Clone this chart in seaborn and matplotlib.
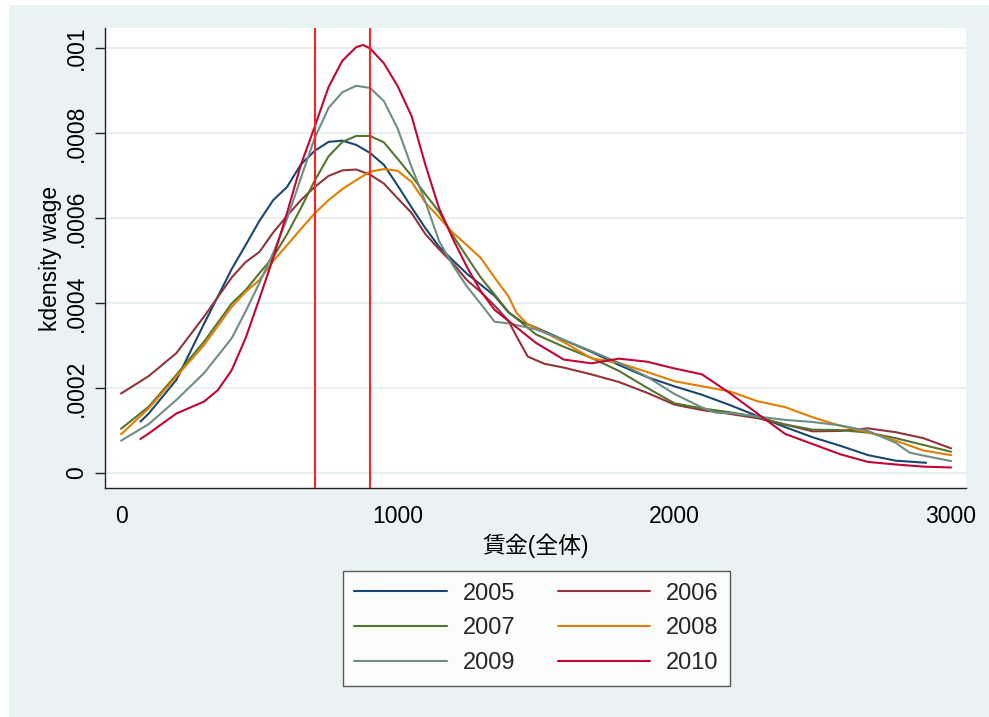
import matplotlib
matplotlib.use("Agg")
import matplotlib.pyplot as plt
from matplotlib.patches import Rectangle
import numpy as np
import pandas as pd
import seaborn as sns

sns.set_theme(style="white")
plt.rcParams['font.family'] = ['Liberation Sans', 'Noto Sans CJK JP', 'DejaVu Sans']

# kdensity of wage per year, density values in units of 1e-4
years = ["2005", "2006", "2007", "2008", "2009", "2010"]
colors = ["#1a476f", "#90353b", "#55752f", "#e37e00", "#6e8e84", "#c10534"]

wage_2005 = [70, 100, 200, 300, 400, 450, 500, 550, 600, 650, 700, 750, 800, 850, 900, 950, 1000,
             1050, 1100, 1150, 1200, 1250, 1300, 1350, 1400, 1450, 1500, 1600, 1700, 1800, 1900,
             2000, 2100, 2200, 2300, 2400, 2500, 2600, 2700, 2800, 2910]
dens_2005 = [1.21, 1.40, 2.19, 3.51, 4.80, 5.36, 5.93, 6.42, 6.73, 7.26, 7.58, 7.79, 7.82, 7.72,
             7.53, 7.25, 6.76, 6.25, 5.76, 5.32, 5.00, 4.69, 4.43, 4.17, 3.78, 3.55, 3.42, 3.13,
             2.85, 2.54, 2.26, 2.04, 1.84, 1.60, 1.34, 1.08, 0.84, 0.64, 0.42, 0.29, 0.24]

wage_2006 = [0, 100, 200, 300, 400, 450, 500, 550, 600, 650, 700, 750, 800, 850, 900, 950, 1000,
             1050, 1100, 1150, 1200, 1250, 1300, 1350, 1400, 1430, 1470, 1530, 1600, 1700, 1800,
             1900, 2000, 2100, 2200, 2300, 2400, 2500, 2600, 2700, 2800, 2900, 3000]
dens_2006 = [1.87, 2.28, 2.82, 3.68, 4.60, 4.96, 5.20, 5.66, 6.05, 6.42, 6.73, 6.99, 7.12, 7.14,
             7.02, 6.81, 6.46, 6.12, 5.62, 5.26, 4.93, 4.54, 4.26, 3.94, 3.58, 3.21, 2.74, 2.57,
             2.48, 2.32, 2.14, 1.89, 1.61, 1.48, 1.39, 1.29, 1.14, 0.98, 0.99, 1.05, 0.96, 0.82,
             0.58]

wage_2007 = [0, 100, 200, 300, 400, 450, 500, 550, 600, 650, 700, 750, 800, 850, 900, 950, 1000,
             1050, 1100, 1150, 1200, 1250, 1300, 1350, 1400, 1500, 1600, 1700, 1800, 1900, 2000,
             2100, 2200, 2300, 2400, 2500, 2600, 2700, 2800, 2900, 3000]
dens_2007 = [1.04, 1.56, 2.31, 3.09, 3.99, 4.30, 4.70, 5.08, 5.62, 6.23, 6.88, 7.45, 7.79, 7.93,
             7.93, 7.78, 7.39, 6.99, 6.56, 6.14, 5.58, 5.09, 4.60, 4.20, 3.79, 3.26, 2.97, 2.71,
             2.40, 2.01, 1.64, 1.52, 1.43, 1.32, 1.14, 1.02, 1.01, 0.95, 0.82, 0.66, 0.50]

wage_2008 = [0, 100, 200, 300, 400, 450, 500, 550, 600, 650, 700, 750, 800, 850, 900, 950, 1000,
             1050, 1100, 1150, 1200, 1250, 1300, 1350, 1400, 1430, 1470, 1500, 1600, 1700, 1800,
             1900, 2000, 2100, 2200, 2300, 2400, 2500, 2600, 2700, 2800, 2900, 3000]
dens_2008 = [0.91, 1.52, 2.27, 3.01, 3.91, 4.26, 4.54, 4.99, 5.36, 5.74, 6.11, 6.42, 6.68, 6.89,
             7.09, 7.15, 7.11, 6.85, 6.36, 6.01, 5.65, 5.36, 5.06, 4.60, 4.16, 3.76, 3.50, 3.41,
             3.08, 2.70, 2.59, 2.38, 2.16, 2.04, 1.92, 1.69, 1.55, 1.31, 1.11, 0.96, 0.76, 0.53,
             0.42]

wage_2009 = [0, 100, 200, 300, 400, 450, 500, 550, 600, 650, 700, 750, 800, 850, 900, 950, 1000,
             1050, 1100, 1150, 1200, 1250, 1300, 1350, 1400, 1500, 1600, 1700, 1800, 1900, 2000,
             2100, 2150, 2200, 2300, 2400, 2500, 2600, 2700, 2800, 2850, 2900, 3000]
dens_2009 = [0.76, 1.15, 1.72, 2.35, 3.17, 3.80, 4.47, 5.18, 5.98, 6.94, 7.88, 8.59, 8.96, 9.11,
             9.06, 8.75, 8.10, 7.20, 6.38, 5.45, 4.88, 4.39, 3.98, 3.56, 3.52, 3.38, 3.13, 2.87,
             2.59, 2.27, 1.86, 1.54, 1.42, 1.41, 1.33, 1.25, 1.20, 1.12, 0.99, 0.71, 0.48, 0.41,
             0.28]

wage_2010 = [70, 100, 200, 300, 350, 400, 450, 500, 550, 600, 650, 700, 750, 800, 850, 875, 900,
             950, 1000, 1050, 1100, 1150, 1200, 1250, 1300, 1350, 1400, 1500, 1600, 1700, 1800,
             1900, 2000, 2100, 2200, 2300, 2400, 2500, 2600, 2700, 2800, 2900, 3000]
dens_2010 = [0.80, 0.93, 1.40, 1.68, 1.95, 2.42, 3.17, 4.10, 5.06, 6.12, 7.25, 8.15, 9.08, 9.70,
             10.02, 10.07, 9.99, 9.64, 9.10, 8.40, 7.25, 6.22, 5.50, 4.85, 4.28, 3.84, 3.58, 3.06,
             2.67, 2.58, 2.69, 2.62, 2.46, 2.32, 1.88, 1.40, 0.92, 0.68, 0.44, 0.26, 0.20, 0.15,
             0.13]

ref_lines = [700, 900]
x_ticks = [0, 1000, 2000, 3000]
y_ticks = [0, 0.0002, 0.0004, 0.0006, 0.0008, 0.001]
y_ticklabels = ["0", ".0002", ".0004", ".0006", ".0008", ".001"]

wages = [wage_2005, wage_2006, wage_2007, wage_2008, wage_2009, wage_2010]
dens = [dens_2005, dens_2006, dens_2007, dens_2008, dens_2009, dens_2010]
frames = []
for yr, xs, ds in zip(years, wages, dens):
    frames.append(pd.DataFrame({"wage": xs, "density": np.array(ds) * 1e-4, "year": yr}))
df = pd.concat(frames, ignore_index=True)

bg = "#eaf2f3"
W, H = 989, 717
fig = plt.figure(figsize=(W / 100, H / 100), dpi=100, facecolor=bg)
# thin white margin on left/top like the exported graph
fig.patches.append(Rectangle((0, 0), 8 / W, 1, transform=fig.transFigure, color="white", zorder=-1))
fig.patches.append(Rectangle((0, 1 - 4 / H), 1, 4 / H, transform=fig.transFigure, color="white", zorder=-1))

ax = fig.add_axes([105 / W, 1 - 488 / H, (966 - 105) / W, (488 - 28) / H])
ax.set_facecolor("white")

sns.lineplot(data=df, x="wage", y="density", hue="year", palette=dict(zip(years, colors)),
             estimator=None, sort=False, lw=1.5, ax=ax, zorder=2)

for v in ref_lines:
    ax.axvline(v, color="#ff2020", lw=1.5, zorder=3)

ax.set_xlim(-58, 3054)
ax.set_ylim(-0.0000353, 0.001047)
ax.set_xticks(x_ticks)
ax.set_xticklabels([str(t) for t in x_ticks])
ax.set_yticks(y_ticks)
ax.set_yticklabels(y_ticklabels, rotation=90, va="center")

ax.yaxis.grid(True, color="#e6eef0", lw=1.3)
ax.xaxis.grid(False)
ax.set_axisbelow(True)

for s in ["top", "right"]:
    ax.spines[s].set_visible(False)
for s in ["left", "bottom"]:
    ax.spines[s].set_color("#222222")
    ax.spines[s].set_linewidth(1.0)

ax.tick_params(axis="both", which="major", direction="out", length=7, width=1.0,
               color="#222222", labelsize=16.5, labelcolor="black")
ax.tick_params(axis="x", pad=5)
ax.tick_params(axis="y", pad=5, left=True)

ax.set_xlabel("賃金(全体)", fontsize=16.5, color="black")
ax.set_ylabel("kdensity wage", fontsize=16.5, color="black")
ax.xaxis.set_label_coords(0.5, -0.100)
ax.yaxis.set_label_coords(-0.050, 0.5)

handles, labels = ax.get_legend_handles_labels()
ax.get_legend().remove()
order = [0, 2, 4, 1, 3, 5]
leg = fig.legend([handles[i] for i in order], [labels[i] for i in order], ncol=2,
                 loc="upper center", bbox_to_anchor=(536.5 / W, 1 - 570.7 / H),
                 frameon=True, fancybox=False, edgecolor="#333333", facecolor="white",
                 fontsize=17, handlelength=3.9, handletextpad=0.68, columnspacing=1.8,
                 labelspacing=0.54, borderpad=0.5, borderaxespad=0)
leg.get_frame().set_linewidth(1.0)
for line in leg.get_lines():
    line.set_linewidth(1.5)

fig.savefig("out.png", dpi=100, facecolor=fig.get_facecolor())
